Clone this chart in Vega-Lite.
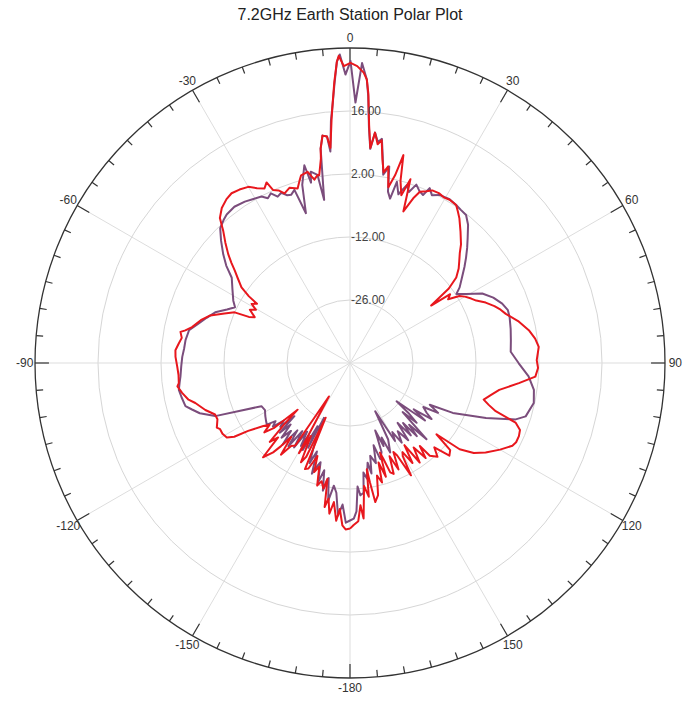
{
  "$schema": "https://vega.github.io/schema/vega-lite/v6.json",
  "width": 630,
  "height": 630,
  "autosize": {"type": "none"},
  "padding": {"left": 35, "top": 48, "right": 19, "bottom": 24},
  "title": {"text": "7.2GHz Earth Station Polar Plot", "fontSize": 16, "font": "Liberation Sans", "fontWeight": "normal", "color": "#222222", "offset": 9},
  "config": {"view": {"stroke": null}, "font": "Liberation Sans"},
  "datasets": {
    "rings": [{"db": -26, "t": "-26.00"}, {"db": -12, "t": "-12.00"}, {"db": 2, "t": "2.00"}, {"db": 16, "t": "16.00"}],
    "outer": [{"db": 30}],
    "spokes": [{"a": 0}, {"a": 30}, {"a": 60}, {"a": 90}, {"a": 120}, {"a": 150}, {"a": 180}, {"a": 210}, {"a": 240}, {"a": 270}, {"a": 300}, {"a": 330}],
    "ticks": [{"a":0},{"a":5},{"a":10},{"a":15},{"a":20},{"a":25},{"a":30},{"a":35},{"a":40},{"a":45},{"a":50},{"a":55},{"a":60},{"a":65},{"a":70},{"a":75},{"a":80},{"a":85},{"a":90},{"a":95},{"a":100},{"a":105},{"a":110},{"a":115},{"a":120},{"a":125},{"a":130},{"a":135},{"a":140},{"a":145},{"a":150},{"a":155},{"a":160},{"a":165},{"a":170},{"a":175},{"a":180},{"a":185},{"a":190},{"a":195},{"a":200},{"a":205},{"a":210},{"a":215},{"a":220},{"a":225},{"a":230},{"a":235},{"a":240},{"a":245},{"a":250},{"a":255},{"a":260},{"a":265},{"a":270},{"a":275},{"a":280},{"a":285},{"a":290},{"a":295},{"a":300},{"a":305},{"a":310},{"a":315},{"a":320},{"a":325},{"a":330},{"a":335},{"a":340},{"a":345},{"a":350},{"a":355}],
    "labels": [{"a": 0, "t": "0"}, {"a": 30, "t": "30"}, {"a": 60, "t": "60"}, {"a": 90, "t": "90"}, {"a": 120, "t": "120"}, {"a": 150, "t": "150"}, {"a": 180, "t": "-180"}, {"a": -150, "t": "-150"}, {"a": -120, "t": "-120"}, {"a": -90, "t": "-90"}, {"a": -60, "t": "-60"}, {"a": -30, "t": "-30"}],
    "purple": [
      {"a":-180,"db":-5.0},{"a":-178.5,"db":-4.5},{"a":-177,"db":-8.5},{"a":-175.5,"db":-6.0},{"a":-174,"db":-11},{"a":-172.5,"db":-12.5},{"a":-171,"db":-9},{"a":-169.5,"db":-14},{"a":-168,"db":-11},{"a":-166.5,"db":-15.5},{"a":-165,"db":-12.5},{"a":-163.5,"db":-17},{"a":-162.4,"db":-16},{"a":-161,"db":-14},{"a":-159.5,"db":-19},{"a":-158,"db":-16},{"a":-156.5,"db":-20},{"a":-154.6,"db":-26.5},{"a":-153.7,"db":-19},{"a":-152.8,"db":-24.2},{"a":-151.5,"db":-18},{"a":-150.3,"db":-21.5},{"a":-149.4,"db":-18.6},{"a":-148,"db":-22},{"a":-146.5,"db":-17.5},{"a":-145,"db":-21.5},{"a":-143.5,"db":-17},{"a":-142,"db":-21},{"a":-140.5,"db":-16.5},{"a":-139,"db":-20},{"a":-137.5,"db":-17.5},{"a":-136,"db":-21},{"a":-134.8,"db":-18},{"a":-133.7,"db":-22.9},{"a":-132.5,"db":-19},{"a":-131,"db":-20.5},{"a":-129.5,"db":-17.8},{"a":-128,"db":-19},{"a":-126.5,"db":-17},{"a":-124.8,"db":-17.3},{"a":-122,"db":-17.8},{"a":-119,"db":-18.4},{"a":-116,"db":-18.1},{"a":-111.5,"db":-7.8},{"a":-108.5,"db":-4.8},{"a":-106.4,"db":-3.4},{"a":-104.7,"db":-2.2},{"a":-101.5,"db":-1.8},{"a":-98.9,"db":-1.5},{"a":-96.5,"db":-1.9},{"a":-94.6,"db":-2.2},{"a":-91,"db":-2.5},{"a":-87.9,"db":-2.7},{"a":-85,"db":-3.0},{"a":-82.1,"db":-3.1},{"a":-78.5,"db":-3.5},{"a":-75.5,"db":-5.2},{"a":-72.5,"db":-6.6},{"a":-69.4,"db":-8},{"a":-66.5,"db":-10.2},{"a":-64.1,"db":-11.6},{"a":-61.9,"db":-10.6},{"a":-58,"db":-9.2},{"a":-54.2,"db":-7.6},{"a":-51.8,"db":-5.0},{"a":-49.4,"db":-2.9},{"a":-46.5,"db":-0.5},{"a":-43.9,"db":1.6},{"a":-41.5,"db":2.4},{"a":-39.7,"db":2.9},{"a":-36.5,"db":3.2},{"a":-33.1,"db":2.8},{"a":-30.5,"db":2.3},{"a":-28,"db":1.9},{"a":-26.5,"db":0.9},{"a":-25,"db":1.6},{"a":-23.5,"db":0.3},{"a":-22,"db":0.8},{"a":-20.5,"db":-0.2},{"a":-19.3,"db":-0.4},{"a":-17.8,"db":0.4},{"a":-16.4,"db":-5.3},{"a":-15,"db":1},{"a":-13,"db":5.1},{"a":-12.2,"db":1.0},{"a":-11.6,"db":3.4},{"a":-10.5,"db":2.8},{"a":-9.8,"db":2.4},{"a":-9,"db":-3.3},{"a":-7.8,"db":8.1},{"a":-6.9,"db":10.9},{"a":-5.8,"db":10.6},{"a":-5.3,"db":7.2},{"a":-4.5,"db":14},{"a":-4,"db":16.6},{"a":-3.2,"db":22},{"a":-2.5,"db":27},{"a":-1.9,"db":28.6},{"a":-0.9,"db":24.1},{"a":0.1,"db":27.1},{"a":1.2,"db":17.9},{"a":2.3,"db":26.7},{"a":3.4,"db":23.1},{"a":3.9,"db":19.5},{"a":4.6,"db":12.5},{"a":5.4,"db":7.8},{"a":6.2,"db":11.5},{"a":7.2,"db":9.5},{"a":8.1,"db":10.3},{"a":9,"db":6.5},{"a":10,"db":2.5},{"a":11.3,"db":4.5},{"a":12.5,"db":-1},{"a":13.7,"db":-2.4},{"a":14.5,"db":1.6},{"a":16,"db":-1},{"a":17.7,"db":1.5},{"a":19,"db":0.2},{"a":20.4,"db":2.3},{"a":22,"db":1.2},{"a":23.5,"db":0.7},{"a":24.5,"db":2.7},{"a":26,"db":1.5},{"a":28,"db":2.3},{"a":31.3,"db":2.6},{"a":33.9,"db":2.3},{"a":36,"db":2.0},{"a":38.1,"db":1.8},{"a":40.5,"db":0.4},{"a":43.2,"db":-1.8},{"a":45.5,"db":-3.5},{"a":47.8,"db":-5.2},{"a":50,"db":-6.8},{"a":52.5,"db":-8.6},{"a":55.4,"db":-10.4},{"a":57,"db":-11.8},{"a":59.3,"db":-10},{"a":62.3,"db":-6.8},{"a":65.5,"db":-5.0},{"a":68.7,"db":-3.7},{"a":71.5,"db":-3.0},{"a":74,"db":-3.1},{"a":78,"db":-3.5},{"a":82,"db":-3.9},{"a":86,"db":-4.2},{"a":90.1,"db":-2.5},{"a":94.3,"db":-0.2},{"a":98.3,"db":1.3},{"a":102.3,"db":1.8},{"a":106.9,"db":0.8},{"a":108.8,"db":-1.1},{"a":112,"db":-7.4},{"a":115.9,"db":-14.6},{"a":117.6,"db":-20},{"a":119.5,"db":-17.5},{"a":121,"db":-21},{"a":123,"db":-19.7},{"a":124.5,"db":-18},{"a":126,"db":-22.5},{"a":127.5,"db":-19},{"a":129.4,"db":-26.6},{"a":130.5,"db":-23},{"a":131.9,"db":-20.1},{"a":133,"db":-24},{"a":134.9,"db":-16},{"a":136.2,"db":-21},{"a":137.6,"db":-18},{"a":138.5,"db":-22.2},{"a":140,"db":-19},{"a":141.5,"db":-23},{"a":143,"db":-18.5},{"a":145,"db":-21.5},{"a":147,"db":-18.9},{"a":148.5,"db":-22},{"a":150,"db":-20},{"a":152.4,"db":-27.9},{"a":153.5,"db":-21},{"a":155.8,"db":-18.2},{"a":157,"db":-22},{"a":158,"db":-20.1},{"a":159.5,"db":-24},{"a":160.5,"db":-19},{"a":162.5,"db":-17.6},{"a":164,"db":-21},{"a":165.5,"db":-17},{"a":167.7,"db":-18.9},{"a":169,"db":-15},{"a":170,"db":-17.5},{"a":171.6,"db":-14},{"a":173,"db":-15.5},{"a":174,"db":-11},{"a":175.5,"db":-10.5},{"a":176.5,"db":-12.5},{"a":177.5,"db":-7},{"a":178.6,"db":-5.4},{"a":180,"db":-5.0}
    ],
    "red": [
      {"a":-180,"db":-3.2},{"a":-178.5,"db":-3.0},{"a":-177.3,"db":-3.9},{"a":-176,"db":-7.5},{"a":-175,"db":-4.8},{"a":-173.4,"db":-8.9},{"a":-172.2,"db":-6.2},{"a":-171,"db":-9.5},{"a":-170,"db":-7.5},{"a":-169,"db":-13.8},{"a":-168,"db":-11.5},{"a":-166.5,"db":-13},{"a":-165,"db":-11.8},{"a":-163.5,"db":-16},{"a":-161.8,"db":-14.5},{"a":-160.7,"db":-18.1},{"a":-158.5,"db":-14.8},{"a":-157,"db":-14.4},{"a":-156,"db":-26.7},{"a":-155,"db":-17},{"a":-153.7,"db":-15.4},{"a":-151.8,"db":-21.6},{"a":-150.5,"db":-17},{"a":-147.8,"db":-31.2},{"a":-146.5,"db":-18},{"a":-144.6,"db":-17.4},{"a":-143,"db":-14.5},{"a":-141.5,"db":-19},{"a":-140.3,"db":-16},{"a":-139.3,"db":-13.8},{"a":-137.3,"db":-11.5},{"a":-136,"db":-17},{"a":-134.5,"db":-15},{"a":-133,"db":-20},{"a":-131.7,"db":-24.4},{"a":-130.5,"db":-17.7},{"a":-129,"db":-15.5},{"a":-127.5,"db":-17.5},{"a":-126,"db":-16.2},{"a":-123.7,"db":-12.8},{"a":-122.5,"db":-9.5},{"a":-121.2,"db":-8},{"a":-119,"db":-7.6},{"a":-117,"db":-7.6},{"a":-115.9,"db":-7.1},{"a":-113,"db":-8.0},{"a":-110.9,"db":-7.9},{"a":-108,"db":-6.2},{"a":-104.5,"db":-4.5},{"a":-102.8,"db":-3.2},{"a":-100.1,"db":-2.1},{"a":-97.7,"db":-1.3},{"a":-96.7,"db":-1.7},{"a":-94,"db":-1.8},{"a":-91.2,"db":-1.6},{"a":-88,"db":-1.2},{"a":-85.8,"db":-1.1},{"a":-83.5,"db":-1.7},{"a":-81.5,"db":-2.2},{"a":-79.6,"db":-1.7},{"a":-78.8,"db":-2.7},{"a":-77.2,"db":-4},{"a":-74,"db":-5.5},{"a":-71.2,"db":-7.2},{"a":-68.5,"db":-10},{"a":-66.3,"db":-12},{"a":-65.5,"db":-15.3},{"a":-64.3,"db":-16.5},{"a":-62,"db":-14.8},{"a":-60.5,"db":-16},{"a":-59,"db":-14.5},{"a":-57.5,"db":-15.5},{"a":-56.6,"db":-13.1},{"a":-55.1,"db":-10.6},{"a":-53,"db":-8.8},{"a":-51.3,"db":-7.2},{"a":-49.8,"db":-5.5},{"a":-48.2,"db":-3.7},{"a":-46,"db":-1.5},{"a":-43.9,"db":0.6},{"a":-41.9,"db":3.3},{"a":-39.6,"db":4.7},{"a":-37,"db":5.6},{"a":-34.9,"db":6.0},{"a":-32.5,"db":5.7},{"a":-30,"db":5.2},{"a":-28,"db":4.0},{"a":-26.1,"db":3.2},{"a":-24.8,"db":4.2},{"a":-24,"db":2.1},{"a":-22.5,"db":1.5},{"a":-21.1,"db":0.4},{"a":-19,"db":1.2},{"a":-16.7,"db":0.5},{"a":-15.5,"db":2},{"a":-14.6,"db":3.1},{"a":-12.5,"db":3.5},{"a":-11,"db":1.5},{"a":-9.8,"db":2.4},{"a":-9.3,"db":2.3},{"a":-8.1,"db":5.9},{"a":-7.8,"db":8.1},{"a":-6.9,"db":10.9},{"a":-5.8,"db":10.6},{"a":-5.2,"db":8},{"a":-4.3,"db":14.5},{"a":-4,"db":16.6},{"a":-3.2,"db":22.5},{"a":-2.5,"db":27},{"a":-2.1,"db":28.3},{"a":-1.2,"db":26},{"a":0.1,"db":26.7},{"a":1.4,"db":26},{"a":2.7,"db":24.6},{"a":3.4,"db":23.1},{"a":3.9,"db":20},{"a":4.6,"db":13},{"a":5.4,"db":8},{"a":6.2,"db":11.5},{"a":7.2,"db":9},{"a":8.1,"db":10},{"a":9,"db":6},{"a":10,"db":3},{"a":11,"db":4.5},{"a":12.3,"db":0},{"a":13.5,"db":2.9},{"a":14.4,"db":7.7},{"a":15.5,"db":2},{"a":17,"db":-1},{"a":18.2,"db":3},{"a":19.4,"db":-4.3},{"a":21,"db":-0.8},{"a":22.2,"db":1.1},{"a":24,"db":1.8},{"a":25.5,"db":2.5},{"a":27.8,"db":2.6},{"a":29.5,"db":2.3},{"a":31.4,"db":2.5},{"a":33.9,"db":2.3},{"a":35.5,"db":1.3},{"a":37.1,"db":0.3},{"a":40,"db":-1.8},{"a":43.1,"db":-3.9},{"a":45,"db":-5.5},{"a":47,"db":-6.8},{"a":49,"db":-8},{"a":51.2,"db":-9.7},{"a":53,"db":-12.5},{"a":54.7,"db":-17.9},{"a":55.5,"db":-13},{"a":57,"db":-14},{"a":58.5,"db":-11.5},{"a":60,"db":-10.5},{"a":62,"db":-9.5},{"a":63.7,"db":-8.7},{"a":66,"db":-7},{"a":68.5,"db":-5.5},{"a":70.5,"db":-4.5},{"a":72.5,"db":-3.7},{"a":76,"db":-1.5},{"a":79.6,"db":0.4},{"a":82.5,"db":1.5},{"a":85.1,"db":2.1},{"a":89.1,"db":1.5},{"a":91.5,"db":1.8},{"a":94.2,"db":1.3},{"a":96.8,"db":-2.2},{"a":100.2,"db":-6.3},{"a":103,"db":-8},{"a":105.3,"db":-9.2},{"a":106.8,"db":-7.8},{"a":108.3,"db":-5.9},{"a":109.8,"db":-0.9},{"a":111.5,"db":0.6},{"a":113.4,"db":0.9},{"a":115.5,"db":0.9},{"a":117,"db":0.5},{"a":120,"db":-1.5},{"a":123.4,"db":-3.9},{"a":126,"db":-6},{"a":128.2,"db":-9},{"a":129.5,"db":-15.1},{"a":131,"db":-10.5},{"a":133,"db":-9.8},{"a":135,"db":-13.5},{"a":137,"db":-11.5},{"a":139.3,"db":-12.8},{"a":139.9,"db":-15.9},{"a":141.5,"db":-13},{"a":143,"db":-16.5},{"a":145,"db":-13},{"a":146.5,"db":-18.1},{"a":148,"db":-13.8},{"a":149.5,"db":-17},{"a":150.5,"db":-16.2},{"a":151.5,"db":-11.6},{"a":153,"db":-17},{"a":154,"db":-18},{"a":155.5,"db":-14},{"a":157,"db":-17.5},{"a":158.5,"db":-13.5},{"a":159.8,"db":-14.1},{"a":160.8,"db":-17.4},{"a":161.5,"db":-19},{"a":162.5,"db":-13.5},{"a":164,"db":-17},{"a":165,"db":-12.5},{"a":166.5,"db":-14.3},{"a":168,"db":-10},{"a":169.7,"db":-8.6},{"a":170.5,"db":-13.1},{"a":171,"db":-16.1},{"a":172,"db":-10},{"a":173.5,"db":-12.5},{"a":175,"db":-5.3},{"a":175.8,"db":-8.3},{"a":177,"db":-4.8},{"a":178.7,"db":-4},{"a":180,"db":-3.2}
    ]
  },
  "layer": [
    {
      "data": {"name": "rings"},
      "transform": [
        {"calculate": "(datum.db + 40) * (datum.db + 40)", "as": "r2"},
        {"calculate": "0", "as": "x"},
        {"calculate": "0", "as": "y"}
      ],
      "mark": {"type": "point", "shape": "circle", "filled": false, "stroke": "#d6d6d6", "strokeWidth": 1, "opacity": 1},
      "encoding": {
        "x": {"field": "x", "type": "quantitative", "scale": {"domain": [-70, 70], "nice": false, "zero": false}, "axis": null},
        "y": {"field": "y", "type": "quantitative", "scale": {"domain": [-70, 70], "nice": false, "zero": false}, "axis": null},
        "size": {"field": "r2", "type": "quantitative", "scale": {"type": "linear", "domain": [0, 4900], "range": [0, 396900], "zero": true}, "legend": null}
      }
    },
    {
      "data": {"name": "spokes"},
      "transform": [
        {"calculate": "0", "as": "x"},
        {"calculate": "0", "as": "y"},
        {"calculate": "70 * sin(datum.a * PI / 180)", "as": "x2"},
        {"calculate": "70 * cos(datum.a * PI / 180)", "as": "y2"}
      ],
      "mark": {"type": "rule", "stroke": "#dddddd", "strokeWidth": 1},
      "encoding": {
        "x": {"field": "x", "type": "quantitative"},
        "y": {"field": "y", "type": "quantitative"},
        "x2": {"field": "x2"},
        "y2": {"field": "y2"}
      }
    },
    {
      "data": {"name": "outer"},
      "transform": [
        {"calculate": "(datum.db + 40) * (datum.db + 40)", "as": "r2"},
        {"calculate": "0", "as": "x"},
        {"calculate": "0", "as": "y"}
      ],
      "mark": {"type": "point", "shape": "circle", "filled": false, "stroke": "#333333", "strokeWidth": 1.3, "opacity": 1},
      "encoding": {
        "x": {"field": "x", "type": "quantitative"},
        "y": {"field": "y", "type": "quantitative"},
        "size": {"field": "r2", "type": "quantitative", "legend": null}
      }
    },
    {
      "data": {"name": "ticks"},
      "transform": [
        {"calculate": "datum.a % 30 == 0 ? 66.9 : 68.45", "as": "ri"},
        {"calculate": "70 * sin(datum.a * PI / 180)", "as": "x"},
        {"calculate": "70 * cos(datum.a * PI / 180)", "as": "y"},
        {"calculate": "datum.ri * sin(datum.a * PI / 180)", "as": "x2"},
        {"calculate": "datum.ri * cos(datum.a * PI / 180)", "as": "y2"}
      ],
      "mark": {"type": "rule", "stroke": "#333333", "strokeWidth": 1.2},
      "encoding": {
        "x": {"field": "x", "type": "quantitative"},
        "y": {"field": "y", "type": "quantitative"},
        "x2": {"field": "x2"},
        "y2": {"field": "y2"}
      }
    },
    {
      "data": {"name": "purple"},
      "transform": [
        {"calculate": "(datum.db + 40) * sin(datum.a * PI / 180)", "as": "x"},
        {"calculate": "(datum.db + 40) * cos(datum.a * PI / 180)", "as": "y"}
      ],
      "mark": {"type": "line", "color": "#7b4d7c", "strokeWidth": 2, "strokeJoin": "round"},
      "encoding": {
        "x": {"field": "x", "type": "quantitative"},
        "y": {"field": "y", "type": "quantitative"},
        "order": {"field": "a", "type": "quantitative"}
      }
    },
    {
      "data": {"name": "red"},
      "transform": [
        {"calculate": "(datum.db + 40) * sin(datum.a * PI / 180)", "as": "x"},
        {"calculate": "(datum.db + 40) * cos(datum.a * PI / 180)", "as": "y"}
      ],
      "mark": {"type": "line", "color": "#e8171d", "strokeWidth": 2, "strokeJoin": "round"},
      "encoding": {
        "x": {"field": "x", "type": "quantitative"},
        "y": {"field": "y", "type": "quantitative"},
        "order": {"field": "a", "type": "quantitative"}
      }
    },
    {
      "data": {"name": "rings"},
      "transform": [
        {"calculate": "datum.db + 40", "as": "y"},
        {"calculate": "0", "as": "x"}
      ],
      "mark": {"type": "text", "align": "left", "baseline": "middle", "dx": 1, "fontSize": 12, "color": "#444444"},
      "encoding": {
        "x": {"field": "x", "type": "quantitative"},
        "y": {"field": "y", "type": "quantitative"},
        "text": {"field": "t", "type": "nominal"}
      }
    },
    {
      "data": {"name": "labels"},
      "transform": [
        {"calculate": "72.3 * sin(datum.a * PI / 180)", "as": "x"},
        {"calculate": "72.3 * cos(datum.a * PI / 180)", "as": "y"}
      ],
      "mark": {"type": "text", "align": "center", "baseline": "middle", "fontSize": 12, "color": "#333333"},
      "encoding": {
        "x": {"field": "x", "type": "quantitative"},
        "y": {"field": "y", "type": "quantitative"},
        "text": {"field": "t", "type": "nominal"}
      }
    }
  ]
}
